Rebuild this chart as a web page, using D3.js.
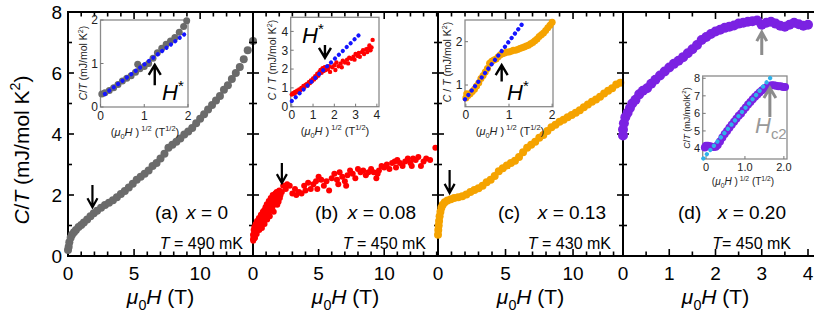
<!DOCTYPE html>
<html><head><meta charset="utf-8">
<script src="https://cdn.jsdelivr.net/npm/d3@7"></script>
<style>
body{margin:0;background:#fff}
text{font-family:"Liberation Sans",Arial,Helvetica,sans-serif}
</style>
</head><body><div id="chart"></div>
<script>
// ---- main panels: mu0H (T) vs C/T (mJ/mol K^2)
var aX = [0,0.05,0.1,0.2,0.3,0.45,0.6,0.8,1.0,1.2,1.45,1.7,1.95,2.2,2.5,2.8,3.1,3.4,3.7,4.0,4.3,4.6,4.9,5.2,5.5,5.8,6.1,6.4,6.7,7.0,7.3,7.6,7.9,8.2,8.5,8.8,9.1,9.4,9.7,10.0,10.3,10.6,10.9,11.2,11.5,11.8,12.1,12.4,12.7,13.0,13.3,13.6,14.0];
var aY = [0.2,0.3,0.45,0.6,0.7,0.78,0.85,0.95,1.02,1.1,1.2,1.3,1.4,1.48,1.58,1.67,1.75,1.83,1.93,2.03,2.13,2.25,2.37,2.5,2.6,2.7,2.8,2.95,3.05,3.2,3.35,3.55,3.65,3.75,3.85,3.98,4.08,4.2,4.35,4.5,4.65,4.8,4.95,5.1,5.25,5.45,5.6,5.8,6.0,6.2,6.45,6.75,7.05];

var bX = [0,0,0.05,0.05,0.1,0.1,0.15,0.2,0.2,0.25,0.3,0.3,0.35,0.4,0.45,0.5,0.55,0.6,0.65,0.7,0.75,0.8,0.85,0.9,0.95,1.0,1.05,1.1,1.15,1.2,1.25,1.3,1.35,1.4,1.45,1.5,1.55,1.6,1.7,1.75,1.8,1.9,2.0,2.1,2.2,
  0.02,0.08,0.12,0.18,0.28,0.38,0.48,0.58,0.68,0.78,0.88,0.98,1.08,1.18,1.28,1.38,1.48,1.58,1.65,1.85,1.95,2.05,2.3,2.6,3.3,4.0,4.9,6.5,7.1,9.5,10.9,12.1,
  2.5,2.8,3.0,3.2,3.5,3.7,3.9,4.2,4.4,4.6,4.8,5.0,5.2,5.4,5.6,5.8,6.0,6.2,6.4,6.6,6.8,7.0,7.2,7.4,7.6,7.8,8.0,8.2,8.4,8.6,8.8,9.0,9.2,9.4,9.6,9.8,10.0,10.2,10.4,10.6,10.8,11.0,11.2,11.4,11.6,11.8,12.0,12.2,12.4,12.6,12.8,13.0,13.2,13.5,13.9];
var bY = [0.55,0.7,0.85,0.62,0.95,0.75,0.6,0.9,1.05,0.78,1.0,1.15,0.88,1.1,1.25,0.98,1.2,1.35,1.1,1.3,1.45,1.22,1.5,1.35,1.6,1.42,1.7,1.5,1.62,1.8,1.55,1.75,1.9,1.65,1.85,2.0,1.75,1.95,2.05,1.85,2.1,1.95,2.15,2.0,2.1,
  0.5,0.68,0.58,0.8,0.72,0.95,0.85,1.05,0.92,1.18,1.05,1.28,1.2,1.4,1.3,1.5,1.6,1.45,1.7,1.68,1.78,1.9,2.3,2.35,2.0,2.15,2.2,2.35,2.3,2.7,2.9,2.95,
  2.2,2.3,2.05,2.2,2.1,2.05,2.3,2.4,2.2,2.35,2.45,2.6,2.5,2.3,2.45,2.15,2.55,2.7,2.5,2.75,2.6,2.45,2.65,2.8,2.7,2.55,2.85,2.75,2.8,2.65,2.75,2.85,2.75,2.55,2.8,2.95,2.9,3.0,2.85,3.05,3.1,3.15,3.05,2.95,3.1,3.2,3.05,3.2,3.15,3.25,2.95,3.1,3.2,3.15,3.55];

var cX = [0,0.02,0.05,0.08,0.12,0.18,0.25,0.35,0.5,0.7,0.95,1.2,1.5,1.8,2.1,2.4,2.7,3.0,3.3,3.6,3.9,4.2,4.5,4.8,5.1,5.4,5.7,6.0,6.3,6.6,6.9,7.2,7.5,7.8,8.1,8.4,8.7,9.0,9.3,9.6,9.9,10.2,10.5,10.8,11.1,11.4,11.7,12.0,12.3,12.6,12.9,13.2,13.5];
var cY = [0.7,0.85,1.0,1.15,1.3,1.45,1.58,1.68,1.76,1.82,1.86,1.9,1.93,1.96,2.02,2.1,2.16,2.22,2.3,2.42,2.5,2.62,2.78,2.88,2.97,3.05,3.12,3.25,3.4,3.55,3.65,3.75,3.88,3.97,4.1,4.22,4.3,4.4,4.47,4.55,4.62,4.7,4.78,4.88,4.97,5.06,5.13,5.22,5.33,5.42,5.5,5.62,5.68];

var dX = [0,0,0.02,0.05,0.1,0.15,0.2,0.27,0.35,0.43,0.52,0.61,0.7,0.8,0.9,1.0,1.1,1.2,1.3,1.4,1.5,1.6,1.7,1.8,1.9,2.0,2.1,2.2,2.3,2.4,2.5,2.6,2.7,2.8,2.9,3.0,3.1,3.2,3.3,3.4,3.5,3.6,3.7,3.8,3.9,4.0];
var dY = [3.95,4.15,4.35,4.55,4.7,4.85,5.0,5.12,5.3,5.42,5.5,5.65,5.78,5.92,6.05,6.18,6.3,6.4,6.52,6.65,6.78,6.92,7.08,7.18,7.28,7.36,7.42,7.48,7.52,7.56,7.62,7.65,7.68,7.7,7.72,7.58,7.65,7.68,7.62,7.55,7.52,7.58,7.65,7.6,7.55,7.58];

// ---- insets: (mu0H)^1/2 vs C/T
var iaX = [0.03,0.1,0.2,0.3,0.4,0.5,0.6,0.7,0.8,0.85,0.9,1.0,1.1,1.2,1.3,1.4,1.5,1.6,1.7,1.8,1.9,1.97];
var iaY = [0.3,0.33,0.38,0.44,0.52,0.6,0.66,0.72,0.8,0.98,0.88,0.93,1.0,1.12,1.25,1.35,1.44,1.52,1.6,1.72,1.85,1.98];
var ibX = [0.0,0.05,0.1,0.15,0.2,0.25,0.3,0.35,0.4,0.45,0.5,0.55,0.6,0.65,0.7,0.75,0.8,0.85,0.9,0.95,1.0,1.05,1.1,1.15,1.2,1.25,1.3,1.35,1.4,1.45,1.5,1.55,1.6,1.7,1.75,1.8,1.9,2.0,2.05,2.1,2.2,2.3,2.35,2.4,2.5,2.6,2.65,2.7,2.8,2.9,2.95,3.0,3.1,3.15,3.2,3.3,3.35,3.4,3.5,3.55,3.6,3.65,3.7,3.75,3.8];
var ibY = [0.65,0.72,0.68,0.78,0.75,0.85,0.8,0.92,0.88,1.0,0.95,1.1,1.05,1.15,1.2,1.12,1.3,1.25,1.4,1.35,1.5,1.45,1.62,1.55,1.75,1.65,1.85,1.95,1.8,2.05,1.9,2.1,1.95,2.0,2.15,1.85,2.1,2.2,1.95,2.35,2.15,2.3,2.1,2.45,2.35,2.5,2.3,2.6,2.55,2.65,2.5,2.8,2.7,2.85,2.65,2.9,3.0,2.8,3.05,2.9,3.1,3.25,3.0,3.15,3.55];
var icX = [0.0,0.02,0.05,0.1,0.15,0.2,0.25,0.3,0.35,0.4,0.45,0.5,0.55,0.6,0.65,0.7,0.75,0.8,0.85,0.9,0.95,1.0,1.05,1.1,1.15,1.2,1.25,1.3,1.35,1.4,1.45,1.5,1.55,1.6,1.65,1.7,1.75,1.8,1.85,1.9,1.95,2.0];
var icY = [0.7,0.8,0.76,0.8,0.85,0.9,0.98,1.05,1.15,1.22,1.3,1.38,1.5,1.55,1.58,1.6,1.65,1.7,1.72,1.74,1.76,1.76,1.78,1.8,1.8,1.82,1.84,1.86,1.88,1.9,1.92,1.95,1.98,2.02,2.06,2.12,2.16,2.2,2.26,2.32,2.38,2.45];
var idX = [-0.03,0.0,0.05,0.1,0.15,0.2,0.25,0.3,0.36,0.42,0.48,0.54,0.6,0.66,0.72,0.78,0.84,0.9,0.96,1.02,1.08,1.14,1.2,1.26,1.32,1.38,1.44,1.5,1.56,1.62,1.68,1.74,1.8,1.86,1.92,1.98,2.03];
var idY = [4.05,4.15,4.15,4.12,4.1,4.08,4.1,4.2,4.4,4.62,4.82,5.0,5.18,5.35,5.52,5.7,5.86,6.0,6.18,6.34,6.5,6.65,6.8,6.95,7.08,7.2,7.32,7.42,7.5,7.56,7.6,7.6,7.58,7.55,7.55,7.5,7.5];

// linear fits in the insets, [x, y] end points
var fitA = [[0.1,0.3],[1.97,1.71]];
var fitB = [[0.0,0.3],[3.15,3.8]];
var fitC = [[-0.02,0.67],[1.3,2.4]];
var fitD = [[-0.07,3.43],[1.68,8.1]];

var panelLabels = ["(a)", "(b)", "(c)", "(d)"];
var xLabels = ["0", "0.08", "0.13", "0.20"];
var tempLabels = ["490 mK", "450 mK", "430 mK", "450 mK"];
var mainTicks = [[0,5,10],[0,5,10],[0,5,10],[0,1,2,3,4]];
var yTicks = [0,2,4,6,8];

var W = 814, H = 312, TOP = 12, BOT = 256;
var FONT = 19;

var svg = d3.select("#chart").append("svg").attr("width", W).attr("height", H);
var y = d3.scaleLinear().domain([0, 8]).range([BOT, TOP]);

// rich text helper: parts = [[str, flags]] with flags i / sup / sub
function rich(t, parts, size) {
    var shift = 0;
    parts.forEach(function(p) {
        var f = p[1] || "";
        var ts = t.append("tspan").text(p[0]);
        var target = 0;
        if (f.indexOf("sup") >= 0) target = -size * 0.42;
        if (f.indexOf("sub") >= 0) target = size * 0.28;
        ts.attr("dy", target - shift);
        shift = target;
        if (target !== 0) ts.attr("font-size", size * 0.68);
        if (f.indexOf("i") === 0) ts.attr("font-style", "italic");
    });
    return t;
}

function arrow(g, x, yTail, yTip, color, w, hw, hl) {
    var dir = yTip < yTail ? 1 : -1;
    g.append("path")
        .attr("d", "M" + x + "," + yTail + "L" + x + "," + yTip +
            "M" + (x - hw) + "," + (yTip + dir * hl) + "L" + x + "," + yTip + "L" + (x + hw) + "," + (yTip + dir * hl))
        .style("fill", "none").style("stroke", color)
        .style("stroke-width", w).style("stroke-linejoin", "miter");
}

var panels = [
    {x0: 68,  x1: 253, dom: [0, 14],   minor: 1,   major: 5, color: "#6b6b6b", r: 4,   xs: aX, ys: aY,
     labX: 155, xEnd: 228, tEnd: 243, tEq: " = ", arr: [1.85, 2.33, 1.6], arrColor: "#000"},
    {x0: 253, x1: 438, dom: [0, 14.1], minor: 1,   major: 5, color: "#ff0000", r: 3,   xs: bX, ys: bY,
     labX: 315, xEnd: 416, tEnd: 426, tEq: " = ", arr: [2.2, 3.05, 2.39], arrColor: "#000"},
    {x0: 438, x1: 623, dom: [0, 13.7], minor: 1,   major: 5, color: "#f5a300", r: 4,   xs: cX, ys: cY,
     labX: 498, xEnd: 606, tEnd: 611, tEq: " = ", arr: [0.86, 2.82, 2.07], arrColor: "#000"},
    {x0: 623, x1: 808, dom: [0, 4],    minor: 0.5, major: 1, color: "#7b22e2", r: 5,   xs: dX, ys: dY,
     labX: 678, xEnd: 786, tEnd: 791, tEq: "= ", arr: [3.0, 6.59, 7.34], arrColor: "#8c8c8c"}
];

// frame
var frame = svg.append("g").style("stroke", "#000").style("stroke-width", 2);
frame.append("line").attr("x1", 67).attr("x2", W).attr("y1", TOP).attr("y2", TOP);
frame.append("line").attr("x1", 67).attr("x2", W).attr("y1", BOT).attr("y2", BOT);

panels.forEach(function(p, i) {
    var x = d3.scaleLinear().domain(p.dom).range([p.x0, p.x1]);
    var g = svg.append("g");
    var ax = g.append("g").style("stroke", "#000").style("stroke-width", 1.6);

    ax.append("line").attr("x1", p.x0).attr("x2", p.x0).attr("y1", TOP).attr("y2", BOT)
        .style("stroke-width", 2);

    d3.range(0, p.dom[1] + 1e-6, p.minor).forEach(function(v) {
        var q = v / p.major;
        var len = Math.abs(q - Math.round(q)) < 1e-6 ? 7 : 4.5;
        ax.append("line").attr("x1", x(v)).attr("x2", x(v)).attr("y1", BOT).attr("y2", BOT - len);
        ax.append("line").attr("x1", x(v)).attr("x2", x(v)).attr("y1", TOP).attr("y2", TOP + len);
    });
    d3.range(1, 8).forEach(function(v) {
        var len = v % 2 === 0 ? 6 : 4;
        ax.append("line").attr("x1", i === 0 ? p.x0 : p.x0 - len).attr("x2", p.x0 + len)
            .attr("y1", y(v)).attr("y2", y(v));
    });

    mainTicks[i].forEach(function(v) {
        g.append("text").attr("x", x(v)).attr("y", 280).attr("text-anchor", "middle")
            .attr("font-size", FONT).text(v);
    });

    rich(g.append("text").attr("x", (p.x0 + p.x1) / 2).attr("y", 304).attr("text-anchor", "middle")
        .attr("font-size", 21), [["μ", "i"], ["0", "sub"], ["H", "i"], [" (T)", ""]], 21);

    g.append("g").selectAll("circle").data(p.xs).join("circle")
        .attr("cx", function(d) { return x(d); })
        .attr("cy", function(d, k) { return y(p.ys[k]); })
        .attr("r", p.r).style("fill", p.color);

    g.append("text").attr("x", p.labX).attr("y", 219).attr("font-size", FONT).text(panelLabels[i]);
    rich(g.append("text").attr("x", p.xEnd).attr("y", 219).attr("text-anchor", "end").attr("font-size", FONT),
        [["x", "i"], [" = " + xLabels[i], ""]], FONT);
    rich(g.append("text").attr("x", p.tEnd).attr("y", 249).attr("text-anchor", "end").attr("font-size", 16),
        [["T", "i"], [p.tEq + tempLabels[i], ""]], 16);

    arrow(g, x(p.arr[0]), y(p.arr[1]), y(p.arr[2]), p.arrColor, i === 3 ? 3 : 2.2, 5, 9);
});

// y axis tick labels and title
yTicks.forEach(function(v) {
    svg.append("text").attr("x", 62).attr("y", y(v) + 7).attr("text-anchor", "end")
        .attr("font-size", FONT).text(v);
});
rich(svg.append("text").attr("transform", "translate(29,150) rotate(-90)").attr("text-anchor", "middle")
    .attr("font-size", 21),
    [["C", "i"], ["/", ""], ["T", "i"], [" (mJ/mol K", ""], ["2", "sup"], [")", ""]], 21);

// ---- insets
var sqrtLabel = [["(", ""], ["μ", "i"], ["0", "sub"], ["H", "i"], [" )", ""], [" 1/2", "sup"], [" (T", ""], ["1/2", "sup"], [")", ""]];
var insets = [
    {xr: [100.5, 188], xd: [0, 2], yr: [107, 20], yd: [0, 2], xs: iaX, ys: iaY, color: "#6b6b6b", r: 3.5,
     fit: fitA, fitColor: "#1515ff", xt: [0, 1, 2], yt: [0, 1, 2], xfmt: "d", fs: 12,
     yl: [87, 63, 10.5, [["C", "i"], ["/", ""], ["T", "i"], [" (mJ/mol K", ""], ["2", "sup"], [")", ""]]],
     xl: [145, 136, 11],
     arr: [1.24, 0.5, 0.97], arrColor: "#000", hText: [162, 100, "*"]},
    {xr: [290.7, 379], xd: [-0.05, 4.1], yr: [106.7, 17.3], yd: [0, 4.75], xs: ibX, ys: ibY, color: "#ff0000", r: 2.2,
     fit: fitB, fitColor: "#1515ff", xt: [0, 1, 2, 3, 4], yt: [0, 1, 2, 3, 4], xfmt: "d", fs: 12,
     yl: [276, 60, 10.5, [["C", "i"], [" / ", ""], ["T", "i"], [" (mJ/mol K", ""], ["2", "sup"], [")", ""]]],
     xl: [335, 135, 11],
     arr: [1.56, 3.28, 2.59], arrColor: "#000", hText: [302, 43, "*"]},
    {xr: [465, 553], xd: [-0.02, 2.02], yr: [106.7, 20], yd: [0.5, 2.5], xs: icX, ys: icY, color: "#f5a300", r: 3.5,
     fit: fitC, fitColor: "#1515ff", xt: [0, 1, 2], yt: [1, 2], xfmt: "d", fs: 12,
     yl: [451, 62, 10.5, [["C", "i"], [" / ", ""], ["T", "i"], [" (mJ/mol K", ""], ["2", "sup"], [")", ""]]],
     xl: [510, 135, 11],
     arr: [0.83, 1.08, 1.46], arrColor: "#000", hText: [507, 100, "*"]},
    {xr: [702.7, 787], xd: [-0.085, 2.08], yr: [159, 76], yd: [3.4, 8.13], xs: idX, ys: idY, color: "#7b22e2", r: 4,
     fit: fitD, fitColor: "#2fb2ea", xt: [0, 1, 2], yt: [4, 5, 6, 7, 8], xfmt: ".1f", fs: 11,
     yl: [690, 118, 9, [["C", "i"], ["/", ""], ["T", "i"], [" (mJ/molK", ""], ["2", "sup"], [")", ""]]],
     xl: [743, 185, 10],
     arr: [1.64, 5.8, 7.45], arrColor: "#8c8c8c", hText: [755, 133, "c2"]}
];

insets.forEach(function(s) {
    var x = d3.scaleLinear().domain(s.xd).range(s.xr);
    var yy = d3.scaleLinear().domain(s.yd).range(s.yr);
    var g = svg.append("g");

    g.append("rect").attr("x", s.xr[0]).attr("y", s.yr[1])
        .attr("width", s.xr[1] - s.xr[0]).attr("height", s.yr[0] - s.yr[1])
        .style("fill", "#fff").style("stroke", "#8a8a8a").style("stroke-width", 1.3);

    var fmt = d3.format(s.xfmt);
    s.xt.forEach(function(v) {
        g.append("line").attr("x1", x(v)).attr("x2", x(v)).attr("y1", s.yr[0]).attr("y2", s.yr[0] - 3)
            .style("stroke", "#777");
        g.append("text").attr("x", x(v)).attr("y", s.yr[0] + s.fs + 0.5).attr("text-anchor", "middle")
            .attr("font-size", s.fs).style("fill", "#222").text(v === 0 ? "0" : fmt(v));
    });
    s.yt.forEach(function(v) {
        g.append("line").attr("x1", s.xr[0]).attr("x2", s.xr[0] + 3).attr("y1", yy(v)).attr("y2", yy(v))
            .style("stroke", "#777");
        g.append("text").attr("x", s.xr[0] - 2.5).attr("y", yy(v) + s.fs * 0.36).attr("text-anchor", "end")
            .attr("font-size", s.fs).style("fill", "#222").text(v);
    });

    g.append("g").selectAll("circle").data(s.xs).join("circle")
        .attr("cx", function(d) { return x(d); })
        .attr("cy", function(d, k) { return yy(s.ys[k]); })
        .attr("r", s.r).style("fill", s.color);

    g.append("path").attr("d", d3.line().x(function(d) { return x(d[0]); }).y(function(d) { return yy(d[1]); })(s.fit))
        .style("fill", "none").style("stroke", s.fitColor).style("stroke-width", 4.2)
        .style("stroke-linecap", "round").style("stroke-dasharray", "0.1 5.4");

    rich(g.append("text").attr("transform", "translate(" + s.yl[0] + "," + s.yl[1] + ") rotate(-90)")
        .attr("text-anchor", "middle").attr("font-size", s.yl[2]).style("fill", "#222"), s.yl[3], s.yl[2]);
    rich(g.append("text").attr("x", s.xl[0]).attr("y", s.xl[1]).attr("text-anchor", "middle")
        .attr("font-size", s.xl[2]).style("fill", "#222"), sqrtLabel, s.xl[2]);

    arrow(g, x(s.arr[0]), yy(s.arr[1]), yy(s.arr[2]), s.arrColor, s.arrColor === "#000" ? 2.4 : 3, 6, 10);

    var ht = g.append("text").attr("x", s.hText[0]).attr("y", s.hText[1]).attr("font-size", 22)
        .style("fill", s.arrColor === "#000" ? "#000" : "#999");
    if (s.hText[2] === "*") rich(ht, [["H", "i"], ["*", "sup"]], 22);
    else rich(ht, [["H", "i"], ["c2", "sub"]], 22);
});
</script>
</body></html>
